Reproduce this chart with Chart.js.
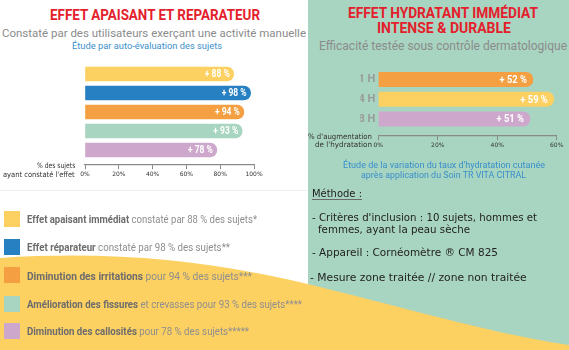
<!DOCTYPE html>
<html lang="fr">
<head>
<meta charset="utf-8">
<script src="https://cdn.jsdelivr.net/npm/chart.js@4.4.1/dist/chart.umd.min.js"></script>
<style>
html, body { margin: 0; padding: 0; }
body { width: 569px; height: 350px; position: relative; overflow: hidden; background: #fff; font-family: Roboto, sans-serif; }
.t { position: absolute; white-space: nowrap; line-height: 1; transform-origin: 0 0; }
.titre { font-weight: 700; color: #e4202c; font-size: 15px; }
.gris { color: #8b8b8b; }
.bleu { color: #3a8fca; }
.meth { font-family: 'DejaVu Sans', sans-serif; color: #222; font-size: 11px; }
.axe { font-family: 'DejaVu Sans', sans-serif; font-size: 7.5px; color: #333; }
.leg { font-size: 10.5px; color: #8e8e8e; }
.leg b { color: #6c6c6c; }
.carre { position: absolute; left: 4px; width: 16px; height: 16px; }
#panneau { position: absolute; left: 308px; top: 0; width: 261px; height: 350px; background: #a8d5c1; }
#vague { position: absolute; left: 0; top: 0; }
#trait { position: absolute; left: 0; top: 190px; width: 308px; height: 1px; background: #f1f1f1; }
#souligne { position: absolute; left: 312px; top: 199px; width: 50px; height: 1.3px; background: #6a6a6a; }
canvas { position: absolute; }
</style>
</head>
<body>
<div id="panneau"></div>
<div id="trait"></div>
<svg id="vague" width="569" height="350"><path d="M0,258 C120,250 220,262 320,287 S500,335 569,345 L569,350 L0,350 Z" fill="#fdd062"/></svg>

<canvas id="graphSujets" width="199" height="130" style="left:70px;top:55px"></canvas>
<canvas id="graphHydra" width="229" height="100" style="left:340px;top:60px"></canvas>

<div class="t titre" data-w="210" style="left:50px;top:8px">EFFET APAISANT ET REPARATEUR</div>
<div class="t gris" data-w="304" style="left:2px;top:27.8px;font-size:11.5px">Constaté par des utilisateurs exerçant une activité manuelle</div>
<div class="t bleu" data-w="150" style="left:72px;top:42.3px;font-size:9px">Étude par auto-évaluation des sujets</div>

<div class="t titre" data-w="190" style="left:348px;top:6px">EFFET HYDRATANT IMMÉDIAT</div>
<div class="t titre" data-w="134" style="left:377px;top:20.7px">INTENSE &amp; DURABLE</div>
<div class="t gris" data-w="248" style="left:319px;top:39.9px;font-size:12px">Efficacité testée sous contrôle dermatologique</div>

<div class="t axe" data-w="38.3" style="left:36.7px;top:161.8px">% des sujets</div>
<div class="t axe" data-w="71.7" style="left:3.3px;top:170.8px">ayant constaté l'effet</div>
<div class="t axe" data-w="64" style="left:308px;top:133.1px">% d'augmentation</div>
<div class="t axe" data-w="57" style="left:315px;top:140.8px">de l'hydratation</div>

<div class="t bleu" data-w="202" style="left:343px;top:160.3px;font-size:9.5px">Étude de la variation du taux d'hydratation cutanée</div>
<div class="t bleu" data-w="165" style="left:360.7px;top:169.8px;font-size:9.5px">après application du Soin TR VITA CITRAL</div>

<div class="t meth" data-w="50" style="left:311.7px;top:189.2px;font-size:10.7px">Méthode :</div>
<div id="souligne"></div>
<div class="t meth" data-w="225" style="left:311.7px;top:212.2px">- Critères d'inclusion : 10 sujets, hommes et</div>
<div class="t meth" data-w="152" style="left:318px;top:224.2px">femmes, ayant la peau sèche</div>
<div class="t meth" data-w="186" style="left:311.7px;top:247.2px">- Appareil : Cornéomètre ® CM 825</div>
<div class="t meth" data-w="216.7" style="left:310px;top:272.2px">- Mesure zone traitée // zone non traitée</div>

<div class="carre" style="top:210.7px;background:#fdd062"></div>
<div class="carre" style="top:239px;background:#2680c2"></div>
<div class="carre" style="top:267px;background:#f4a042"></div>
<div class="carre" style="top:296px;background:#a8d5c1"></div>
<div class="carre" style="top:323px;background:#cea8cc"></div>
<div class="t leg" data-w="230" style="left:26.7px;top:214.8px"><b>Effet apaisant immédiat</b> constaté par 88 % des sujets*</div>
<div class="t leg" data-w="203" style="left:26.7px;top:243.1px"><b>Effet réparateur</b> constaté par 98 % des sujets**</div>
<div class="t leg" data-w="225" style="left:26.7px;top:271.5px"><b>Diminution des irritations</b> pour 94 % des sujets***</div>
<div class="t leg" data-w="275" style="left:26.7px;top:299.8px"><b>Amélioration des fissures</b> et crevasses pour 93 % des sujets****</div>
<div class="t leg" data-w="222" style="left:26.7px;top:326.5px"><b>Diminution des callosités</b> pour 78 % des sujets*****</div>

<script>
// Données
const effets = ['Effet apaisant immédiat', 'Effet réparateur', 'Diminution des irritations', 'Amélioration des fissures', 'Diminution des callosités'];
const pctSujets = [88, 98, 94, 93, 78];
const couleursEffets = ['#fdd062', '#2680c2', '#f4a042', '#a8d5c1', '#cea8cc'];
const ticksSujets = [0, 20, 40, 60, 80, 100];

const heures = ['1 H', '4 H', '8 H'];
const hydratation = [52, 59, 51];
const couleursHeures = ['#f4a042', '#fdd062', '#cea8cc'];
const ticksHydra = [0, 20, 40, 60];

Chart.defaults.font.family = 'DejaVu Sans';

// Etiquettes "+ xx %" dans le bout des barres
const etiquettesBarres = {
    id: 'etiquettesBarres',
    afterDatasetsDraw(chart, args, opts) {
        const ctx = chart.ctx;
        const valeurs = chart.data.datasets[0].data;
        chart.getDatasetMeta(0).data.forEach((barre, i) => {
            ctx.save();
            ctx.translate(barre.x - opts.marge, barre.y + 0.5);
            ctx.scale(opts.etirement, 1);
            ctx.font = `bold ${opts.taille}px Roboto`;
            ctx.fillStyle = '#fff';
            ctx.textAlign = 'right';
            ctx.textBaseline = 'middle';
            ctx.fillText(`+ ${valeurs[i]} %`, 0, 0);
            ctx.restore();
        });
    }
};

function axeX(ticksListe, max, positionY) {
    return {
        min: 0,
        max: max,
        position: { y: positionY },
        grid: { drawOnChartArea: false, tickLength: 4, color: '#8a8a8a' },
        border: { color: '#8a8a8a', width: 1.2 },
        ticks: { padding: 2, font: { size: 6 }, color: '#333', callback: v => v + '%' },
        afterBuildTicks: s => { s.ticks = ticksListe.map(v => ({ value: v })); }
    };
}

new Chart(document.getElementById('graphSujets'), {
    type: 'bar',
    data: {
        labels: effets,
        datasets: [{ data: pctSujets, backgroundColor: couleursEffets, barThickness: 14, borderRadius: 7, borderSkipped: 'start' }]
    },
    options: {
        indexAxis: 'y',
        responsive: false,
        animation: false,
        layout: { autoPadding: false, padding: { left: 15, right: 15, top: 9.5, bottom: 25.5 } },
        plugins: {
            legend: { display: false },
            tooltip: { enabled: false },
            etiquettesBarres: { marge: 4, taille: 10, etirement: 0.85 }
        },
        scales: {
            y: { display: false },
            x: axeX(ticksSujets, 100, 4.79)
        }
    },
    plugins: [etiquettesBarres]
});

new Chart(document.getElementById('graphHydra'), {
    type: 'bar',
    data: {
        labels: heures,
        datasets: [{ data: hydratation, backgroundColor: couleursHeures, barThickness: 14.5, borderRadius: 7, borderSkipped: 'start' }]
    },
    options: {
        indexAxis: 'y',
        responsive: false,
        animation: false,
        layout: { autoPadding: false, padding: { left: 20.3, right: 12.3, top: 8.4, bottom: 31.1 } },
        plugins: {
            legend: { display: false },
            tooltip: { enabled: false },
            etiquettesBarres: { marge: 6, taille: 11, etirement: 0.85 }
        },
        scales: {
            y: {
                grid: { display: false, drawTicks: false },
                border: { display: false },
                ticks: { padding: 3, color: '#9a9a9a', font: { family: 'Roboto', weight: 'bold', size: 11 } },
                afterFit: s => { s.width = 18; }
            },
            x: axeX(ticksHydra, 60, 2.85)
        }
    },
    plugins: [etiquettesBarres]
});

// Ajuster la largeur des textes
document.querySelectorAll('[data-w]').forEach(el => {
    const largeur = el.getBoundingClientRect().width;
    el.style.transform = `scaleX(${parseFloat(el.dataset.w) / largeur})`;
});
</script>
</body>
</html>
